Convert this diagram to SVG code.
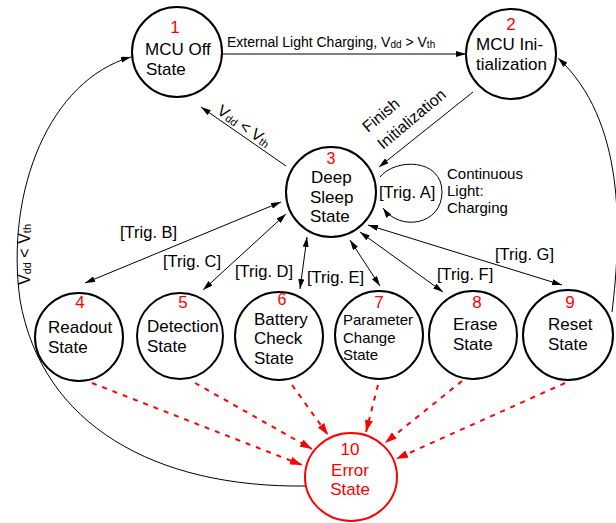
<svg xmlns="http://www.w3.org/2000/svg" width="616" height="523" viewBox="0 0 616 523">
<style>
text{font-family:"Liberation Sans",Arial,sans-serif;fill:#000}
.node{fill:#fff;stroke:#000;stroke-width:2}
.err{fill:#fff;stroke:#f00;stroke-width:2}
.lbl{font-size:17px}
.num{font-size:17px;fill:#f00;text-anchor:middle}
.edge{fill:none;stroke:#000;stroke-width:1}
.dash{fill:none;stroke:#f00;stroke-width:2;stroke-dasharray:5 6}
.trig{font-size:16.5px}
.sm{font-size:15px}
.rot{font-size:16px}
</style>
<defs>
<marker id="arr" viewBox="0 0 10 6" refX="10" refY="3" markerWidth="10" markerHeight="6" markerUnits="userSpaceOnUse" orient="auto-start-reverse"><path d="M0,0 L10,3 L0,6 z" fill="#000"/></marker>
<marker id="arrR" viewBox="0 0 12 8" refX="12" refY="4" markerWidth="12" markerHeight="8" markerUnits="userSpaceOnUse" orient="auto"><path d="M0,0 L12,4 L0,8 z" fill="#f00"/></marker>
</defs>
<g id="connectors">
<path class="edge" d="M222 54 L466 54" marker-end="url(#arr)"/>
<path class="edge" d="M473 92 L379 167" marker-end="url(#arr)"/>
<path class="edge" d="M286 166 L201 107" marker-end="url(#arr)"/>
<path class="edge" d="M380 177 C395 158 442 158 442 192 C442 225 400 232 383 208" marker-end="url(#arr)"/>
<path class="edge" d="M85 283 L281 202" marker-start="url(#arr)" marker-end="url(#arr)"/>
<path class="edge" d="M203 290 L286 214" marker-start="url(#arr)" marker-end="url(#arr)"/>
<path class="edge" d="M300 289 L307 237" marker-start="url(#arr)" marker-end="url(#arr)"/>
<path class="edge" d="M380 286 L350 240" marker-start="url(#arr)" marker-end="url(#arr)"/>
<path class="edge" d="M443 292 L360 232" marker-start="url(#arr)" marker-end="url(#arr)"/>
<path class="edge" d="M562 285 L368 225" marker-start="url(#arr)" marker-end="url(#arr)"/>
<path class="edge" d="M612 312 C622 230 625 120 558 58" marker-end="url(#arr)"/>
<path class="edge" d="M306 486 C155 488 42 425 20 300 C5 190 50 80 131 57" marker-end="url(#arr)"/>
<path class="dash" d="M92 383 L302 465" marker-end="url(#arrR)"/>
<path class="dash" d="M195 383 L312 449" marker-end="url(#arrR)"/>
<path class="dash" d="M292 385 L328 435" marker-end="url(#arrR)"/>
<path class="dash" d="M378 385 L366 432" marker-end="url(#arrR)"/>
<path class="dash" d="M462 381 L385 443" marker-end="url(#arrR)"/>
<path class="dash" d="M565 383 L396 459" marker-end="url(#arrR)"/>
<text x="227" y="47" font-size="14">External Light Charging, V<tspan font-size="10" dy="1">dd</tspan><tspan dy="-1"> &gt; V</tspan><tspan font-size="10" dy="1">th</tspan></text>
<text class="rot" transform="translate(368,133) rotate(-40)">Finish</text>
<text class="rot" transform="translate(383,150) rotate(-40)">Initialization</text>
<text class="rot" transform="translate(216,113) rotate(35)">V<tspan font-size="11" dy="1">dd</tspan><tspan dy="-1"> &lt; V</tspan><tspan font-size="11" dy="1">th</tspan></text>
<text class="rot" transform="translate(30,285) rotate(-90)">V<tspan font-size="11" dy="1">dd</tspan><tspan dy="-1"> &lt; V</tspan><tspan font-size="11" dy="1">th</tspan></text>
<text class="trig" x="379" y="198">[Trig. A]</text>
<text class="sm" x="447" y="179">Continuous</text>
<text class="sm" x="447" y="196">Light:</text>
<text class="sm" x="447" y="213">Charging</text>
<text class="trig" x="120" y="238">[Trig. B]</text>
<text class="trig" x="163" y="267">[Trig. C]</text>
<text class="trig" x="235" y="277">[Trig. D]</text>
<text class="trig" x="307" y="283">[Trig. E]</text>
<text class="trig" x="437" y="280">[Trig. F]</text>
<text class="trig" x="495" y="260">[Trig. G]</text>
</g>
<g id="n1"><circle class="node" cx="177" cy="52" r="45"/><text class="num" x="175" y="33">1</text><text class="lbl" x="145" y="55">MCU Off</text><text class="lbl" x="146" y="75">State</text></g>
<g id="n2"><circle class="node" cx="511" cy="54" r="45"/><text class="num" x="511" y="30">2</text><text class="lbl" x="476" y="50">MCU Ini-</text><text class="lbl" x="476" y="70">tialization</text></g>
<g id="n3"><circle class="node" cx="331" cy="192" r="45"/><text class="num" x="331" y="164" style="font-size:16px">3</text><text class="lbl" x="311" y="183">Deep</text><text class="lbl" x="310" y="203">Sleep</text><text class="lbl" x="310" y="222">State</text></g>
<g id="n4"><circle class="node" cx="79" cy="337" r="44"/><text class="num" x="80" y="308">4</text><text class="lbl" x="48" y="333">Readout</text><text class="lbl" x="48" y="353">State</text></g>
<g id="n5"><circle class="node" cx="180" cy="336" r="43"/><text class="num" x="183" y="308">5</text><text class="lbl" x="147" y="332">Detection</text><text class="lbl" x="147" y="352">State</text></g>
<g id="n6"><circle class="node" cx="279" cy="336" r="44"/><text class="num" x="282" y="305" style="font-size:16px">6</text><text class="lbl" x="254" y="325">Battery</text><text class="lbl" x="254" y="344">Check</text><text class="lbl" x="254" y="364">State</text></g>
<g id="n7"><circle class="node" cx="379" cy="335" r="44"/><text class="num" x="379" y="308">7</text><text class="sm" x="343" y="325">Parameter</text><text class="sm" x="343" y="343">Change</text><text class="sm" x="343" y="360">State</text></g>
<g id="n8"><circle class="node" cx="473" cy="335" r="44"/><text class="num" x="477" y="308">8</text><text class="lbl" x="453" y="330">Erase</text><text class="lbl" x="453" y="350">State</text></g>
<g id="n9"><circle class="node" cx="568" cy="335" r="45"/><text class="num" x="570" y="308">9</text><text class="lbl" x="548" y="330">Reset</text><text class="lbl" x="548" y="350">State</text></g>
<g id="n10"><ellipse class="err" cx="351" cy="477" rx="46" ry="44"/><text class="num" x="350" y="455">10</text><text class="num" x="350" y="476">Error</text><text class="num" x="350" y="495">State</text></g>
</svg>
